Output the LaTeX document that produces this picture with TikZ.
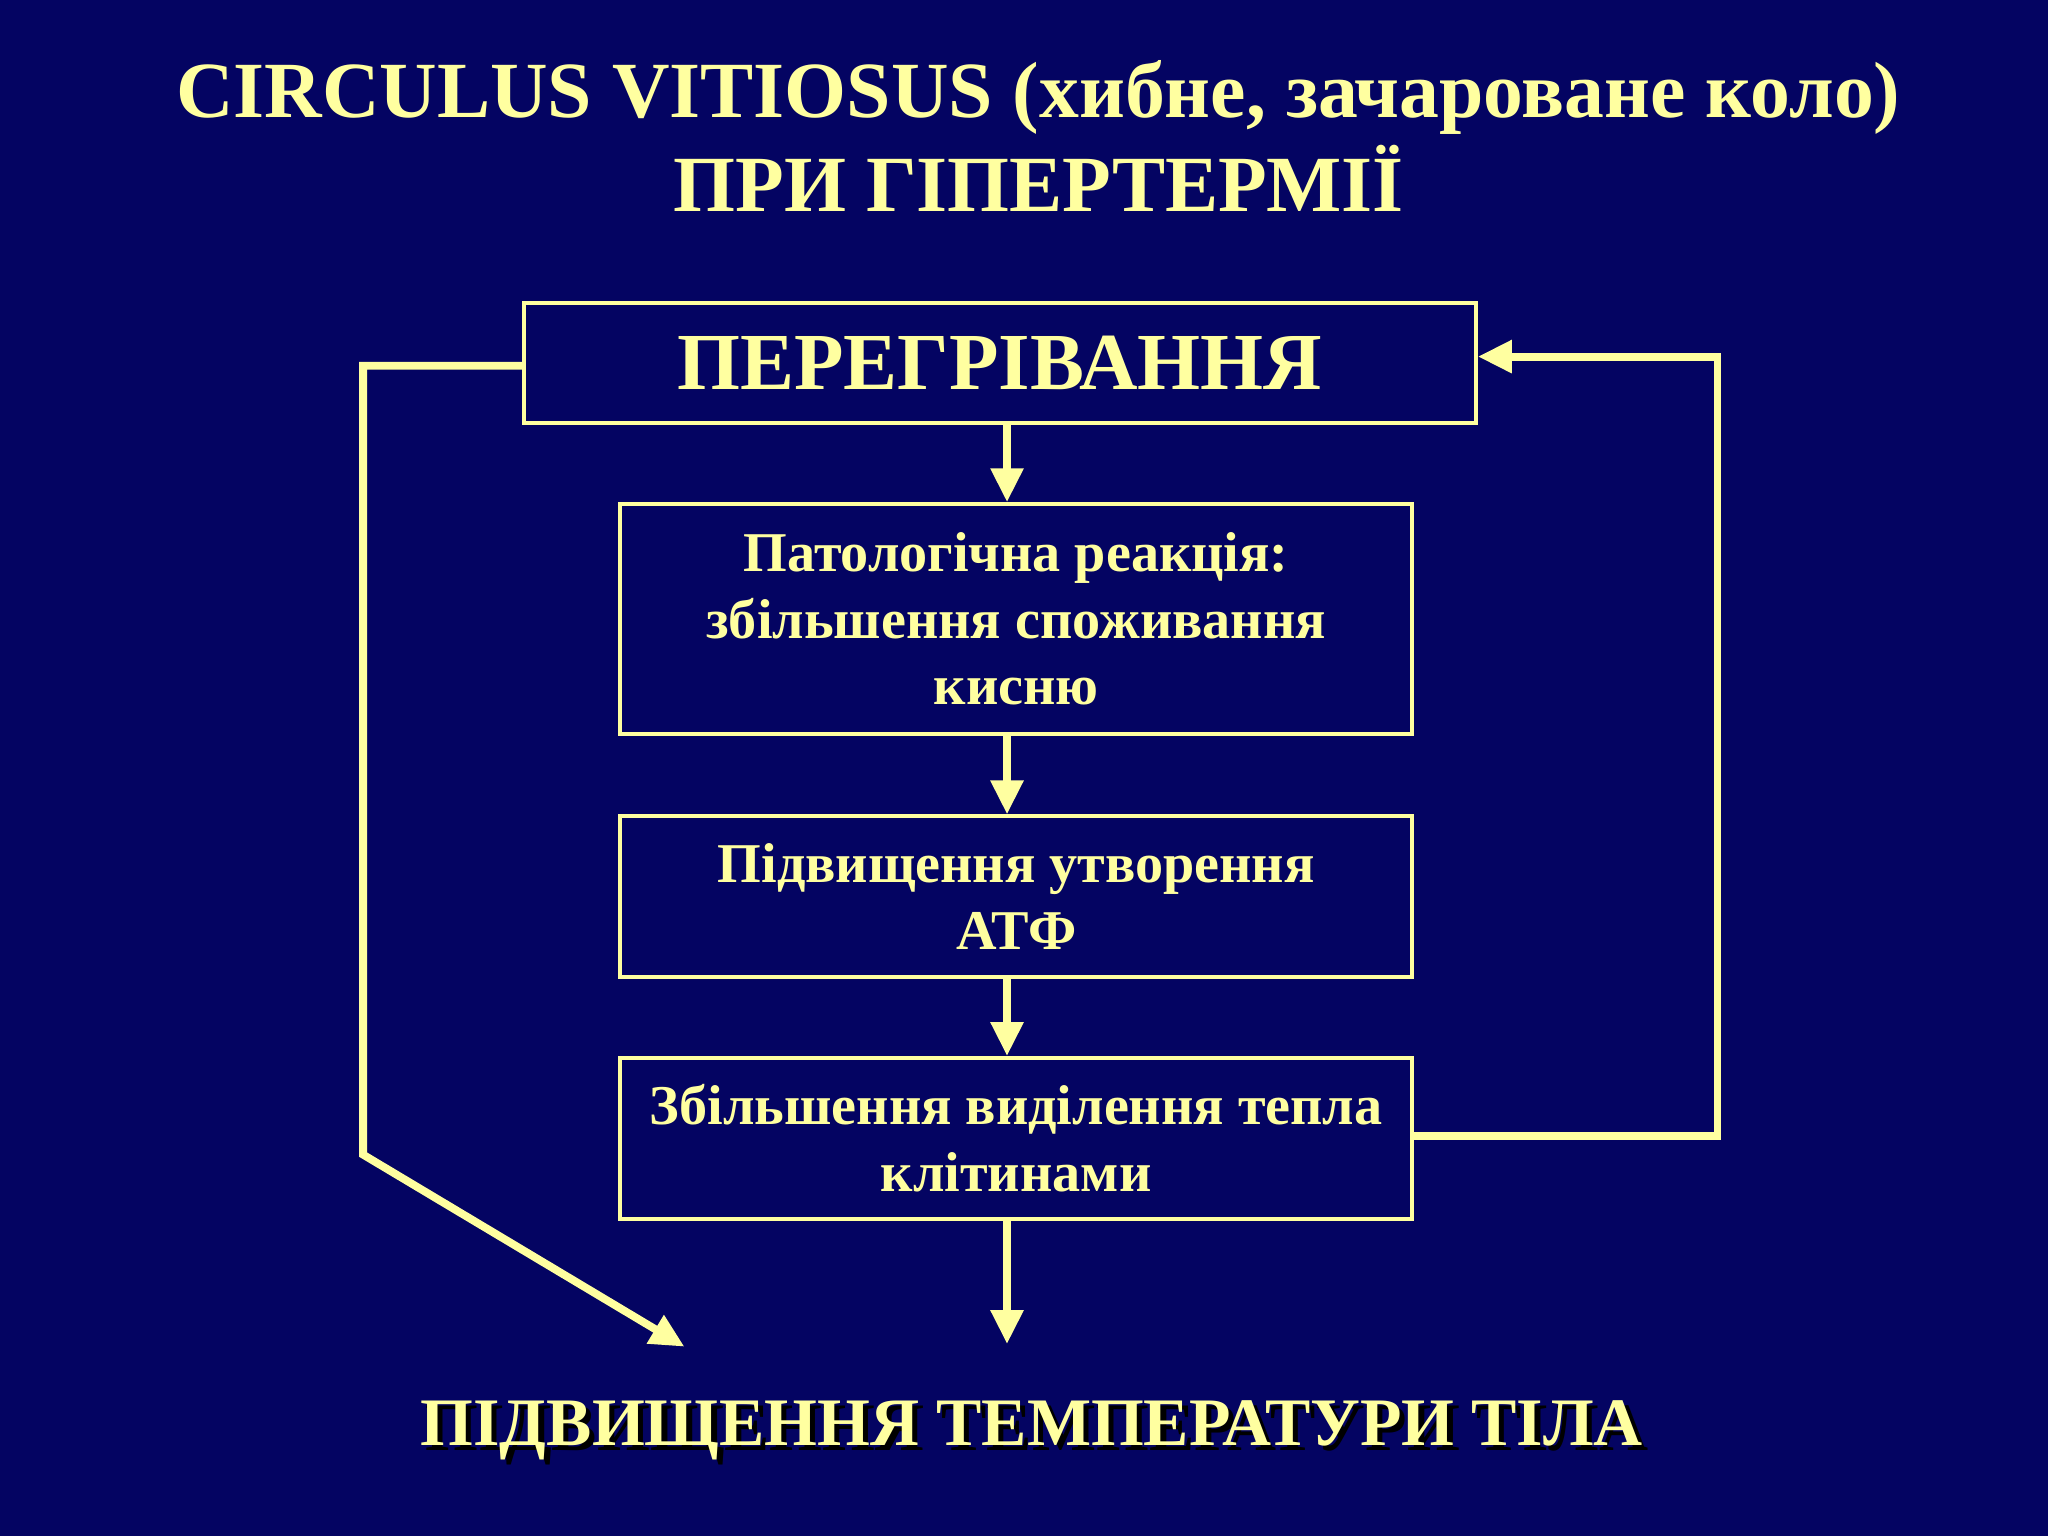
\documentclass[tikz,border=0pt]{standalone}
\usepackage{fontspec}
\setmainfont{Liberation Serif}
\usetikzlibrary{arrows.meta}
\definecolor{bg}{RGB}{4,4,98}
\definecolor{yl}{RGB}{255,255,160}
\begin{document}
\begin{tikzpicture}[x=1pt,y=-1pt,
  box/.style={draw=yl,line width=3pt,text=yl,font=\bfseries\fontsize{43}{51}\selectfont,align=center,inner sep=0pt},
  conn/.style={draw=yl,line width=6pt,-{Triangle[length=26pt,width=24pt]}}]
\fill[bg] (0,0) rectangle (1568,1176);
\useasboundingbox (0,0) rectangle (1568,1176);
\node[text=yl,font=\bfseries\fontsize{61}{72}\selectfont,align=center] (title) at (795,104) {CIRCULUS VITIOSUS (хибне, зачароване коло)\\ПРИ ГІПЕРТЕРМІЇ};
\node[box,minimum width=729pt,minimum height=92pt,font=\bfseries\fontsize{62}{70}\selectfont] (b1) at (765.5,278) {ПЕРЕГРІВАННЯ};
\node[box,minimum width=606pt,minimum height=176pt] (b2) at (778,474) {Патологічна реакція:\\збільшення споживання\\кисню};
\node[box,minimum width=606pt,minimum height=123pt] (b3) at (778,686.5) {Підвищення утворення\\АТФ};
\node[box,minimum width=606pt,minimum height=123pt] (b4) at (778,871.5) {Збільшення виділення тепла\\клітинами};
\node[text=black,font=\bfseries\fontsize{52}{60}\selectfont] (shadow) at (794,1099) {ПІДВИЩЕННЯ ТЕМПЕРАТУРИ ТІЛА};
\node[text=yl,font=\bfseries\fontsize{52}{60}\selectfont] (res) at (790,1095) {ПІДВИЩЕННЯ ТЕМПЕРАТУРИ ТІЛА};
\coordinate (e1) at (771,1029);
\coordinate (e2) at (524,1031);
\coordinate (l1) at (278,280);
\coordinate (l2) at (278,884);
\coordinate (r1) at (1315,870);
\coordinate (r2) at (1315,273);
\draw[conn] (b1.south -| 771,0) -- (b2.north -| 771,0);
\draw[conn] (b2.south -| 771,0) -- (b3.north -| 771,0);
\draw[conn] (b3.south -| 771,0) -- (b4.north -| 771,0);
\draw[conn] (b4.south -| 771,0) -- (e1);
\draw[conn,line join=miter] (b1.west |- l1) -- (l1) -- (l2) -- (e2);
\draw[conn,line join=miter] (b4.east |- r1) -- (r1) -- (r2) -- (b1.east |- r2);
\end{tikzpicture}
\end{document}
